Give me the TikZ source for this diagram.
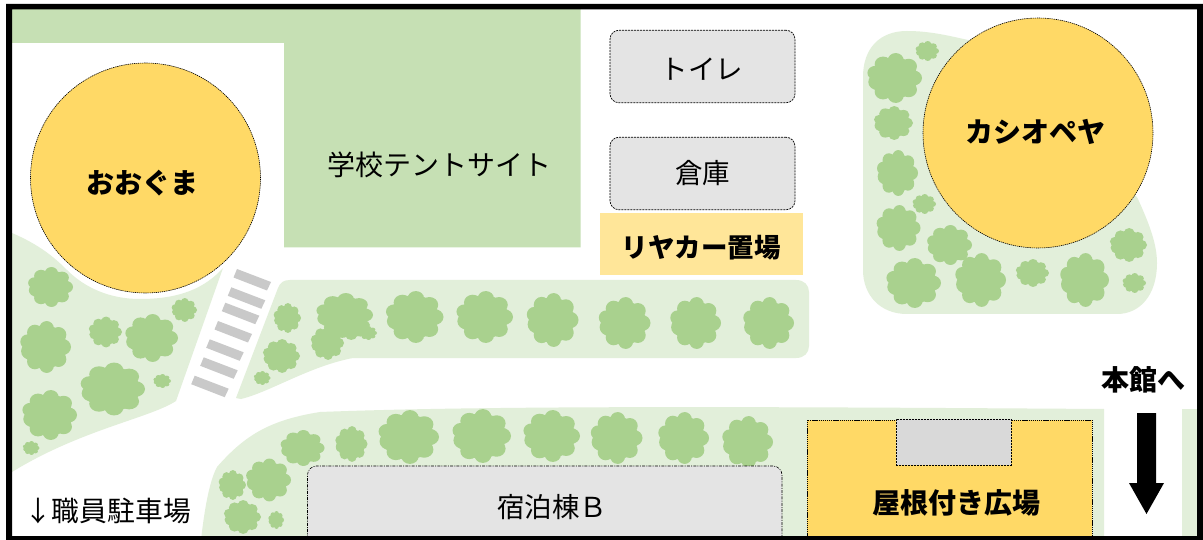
\documentclass[tikz,border=0pt]{standalone}
\usepackage{fontspec}
\setmainfont{Noto Sans CJK JP}
\definecolor{bedlight}{HTML}{E2EFDA}
\definecolor{fieldgreen}{HTML}{C6E0B4}
\definecolor{shrubgreen}{HTML}{A9D18E}
\definecolor{gold}{HTML}{FFD966}
\definecolor{palegold}{HTML}{FFE699}
\definecolor{bldgrey}{HTML}{E4E4E4}
\definecolor{roofgrey}{HTML}{D9D9D9}
\definecolor{stripegrey}{HTML}{C9C9C9}
\tikzset{
  fine/.style={draw=black,line width=0.6pt,dash pattern=on 1.3pt off 0.8pt},
  dashdot/.style={draw=black,line width=0.6pt,dash pattern=on 3pt off 1.2pt on 1pt off 1.2pt},
  tent/.style={circle,fill=gold,fine,minimum size=230pt,inner sep=0pt},
  bldg/.style={rectangle,rounded corners=9pt,fill=bldgrey,draw=black,line width=0.7pt,dash pattern=on 2pt off 1pt,minimum width=185pt,minimum height=72.5pt,inner sep=0pt},
  lbl/.style={inner sep=0pt,font=\fontsize{27.5}{30}\selectfont,text=black},
  blbl/.style={inner sep=0pt,font=\fontsize{28}{30}\selectfont\bfseries,text=black},
}
\newcommand{\shrub}[4]{%
  \begin{scope}[shift={(#1,#2)},xscale=#3,yscale=#4]
    \fill[shrubgreen] (0,0) circle (0.84)
      foreach \a/\d/\r in {0/0.70/0.30,42/0.70/0.30,85/0.72/0.28,125/0.68/0.30,165/0.62/0.32,
        197/0.70/0.28,235/0.68/0.30,275/0.72/0.28,318/0.70/0.30}
      {(\a:\d) circle (\r)};
  \end{scope}}
\begin{document}
\begin{tikzpicture}[x=1pt,y=-1pt]
\useasboundingbox (0,0) rectangle (1203,540);
\fill[white] (0,0) rectangle (1203,540);
% ground
\fill[fieldgreen] (12,9) -- (580.5,9) -- (580.5,247.5) -- (284,247.5) -- (284,43) -- (12,43) -- cycle;
% planting beds
\fill[bedlight] (12,233) .. controls (40,245) and (55,258) .. (67,270)
  .. controls (85,288) and (110,299) .. (140,299)
  .. controls (180,299) and (205,288) .. (223,268)
  -- (176,401) .. controls (150,418) and (80,430) .. (12,472) -- cycle;
\fill[bedlight] (278,288) .. controls (280,283) and (283,280) .. (290,280)
  -- (796,280) .. controls (804,280) and (809,285) .. (809,292)
  -- (809,346) .. controls (809,353) and (804,358) .. (796,358)
  -- (353,358) .. controls (310,366) and (270,392) .. (241,399) -- (236,398) -- cycle;
\fill[bedlight] (201,540) .. controls (205,505) and (210,480) .. (217,467)
  .. controls (245,435) and (270,420) .. (320,412)
  .. controls (500,405) and (800,407) .. (1104,409) -- (1104,540) -- cycle;
\fill[bedlight] (1182,409) rectangle (1203,540);
\fill[bedlight] (863,77) .. controls (863,48) and (880,31) .. (907,31)
  .. controls (930,31) and (950,36) .. (968,40) -- (1137,197)
  .. controls (1150,225) and (1157,245) .. (1157,263)
  .. controls (1157,295) and (1140,314) .. (1117,314)
  -- (907,314) .. controls (880,314) and (863,295) .. (863,270) -- cycle;
% crossing
\foreach \dx/\dy in {0/0,-5.7/18.3,-11.7/33.7,-19/52,-27.3/70.3,-33.3/88.3,-42.3/106.7}
  \fill[stripegrey] (237+\dx,269+\dy) -- (271+\dx,282+\dy) -- (267+\dx,290.5+\dy) -- (233.5+\dx,277.5+\dy) -- cycle;
% shrubs
\shrub{50}{287}{23}{20}\shrub{184}{310}{13}{12}\shrub{105}{332}{17}{15.5}\shrub{151}{338}{27}{24}
\shrub{45}{347}{26}{26}\shrub{112}{389}{33}{26.5}\shrub{162}{381}{9}{7}\shrub{49}{415}{28}{25}\shrub{31}{448}{8.5}{7}
\shrub{287}{318}{14}{15}\shrub{281}{356}{19}{17}\shrub{262}{378}{8.5}{7}
\shrub{344}{315}{29}{22}\shrub{350}{325}{20}{15}\shrub{327}{343}{17}{17}\shrub{368}{333}{9}{7}
\shrub{414}{317}{29.5}{26}\shrub{484}{317}{29}{26}\shrub{552}{320}{26.5}{27}\shrub{624}{323}{26.5}{26}\shrub{695}{323}{26}{26}\shrub{768}{323}{26}{26}
\shrub{302}{448}{22.5}{18}\shrub{351}{444}{16.5}{18}\shrub{408}{437}{31}{27}\shrub{481}{436}{30}{27}\shrub{551}{436}{29}{26}\shrub{616}{438}{26.5}{26}\shrub{683}{438}{26}{26}\shrub{747}{442}{26}{26}
\shrub{232}{485}{14}{15}\shrub{268}{480}{23}{21.5}\shrub{242}{517}{19}{17}\shrub{276}{520}{8}{9}
\shrub{927}{51}{12}{10}\shrub{894}{78}{28}{25}\shrub{893}{123}{20}{17}\shrub{897}{173}{21}{23}\shrub{924}{204}{12}{10}
\shrub{898}{228}{22.5}{23}\shrub{949}{245}{23}{20}\shrub{913}{283}{28}{25}\shrub{980}{280}{26}{27}\shrub{1032}{273}{17}{14}
\shrub{1084}{280}{25}{27}\shrub{1128}{245}{19}{17}\shrub{1134}{283}{12}{10}
% places
\node[tent] (oguma) at (145.5,178) {};
\node[blbl] (ogumatext) at (142.5,183) {おおぐま};
\node[tent] (cassio) at (1038,133) {};
\node[blbl] (cassiotext) at (1035,132) {カシオペヤ};
\node[bldg] (toilet) at (702.5,66.5) {};
\node[lbl] (toilettext) at (702,69.5) {トイレ};
\node[bldg,lbl] (soko) at (702.5,173.5) {倉庫};
\node[rectangle,fill=palegold,minimum width=203pt,minimum height=62pt,inner sep=0pt] (cart) at (701.5,244) {};
\node[inner sep=0pt,font=\fontsize{26.5}{30}\selectfont\bfseries] (carttext) at (701,248) {リヤカー置場};
\node[lbl,font=\fontsize{28}{30}\selectfont] (tentsite) at (439,165) {学校テントサイト};
\path[fill=bldgrey,dashdot,rounded corners=9pt] (307.5,545) -- (307.5,466) -- (782,466) -- (782,545);
\node[lbl] (dormb) at (552,507) {宿泊棟Ｂ};
\path[fill=gold,fine] (807,545) -- (807,420) -- (1092,420) -- (1092,545);
\node[rectangle,fill=roofgrey,draw=black,line width=0.6pt,dash pattern=on 2pt off 1pt,minimum width=115pt,minimum height=46pt,inner sep=0pt] (roof) at (953.5,442) {};
\node[blbl] (plaza) at (956,503) {屋根付き広場};
\node[blbl] (honkan) at (1143,380) {本館へ};
\fill[black] (1137,413) -- (1156,413) -- (1156,483) -- (1164,483) -- (1146.5,514) -- (1129,483) -- (1137,483) -- cycle;
\node[lbl,font=\fontsize{27.8}{30}\selectfont] (staff) at (107.5,510.5) {↓職員駐車場};
% frame
\fill[black,even odd rule] (6,4) rectangle (1203,540) (12,9.5) rectangle (1197,536);
\end{tikzpicture}
\end{document}
